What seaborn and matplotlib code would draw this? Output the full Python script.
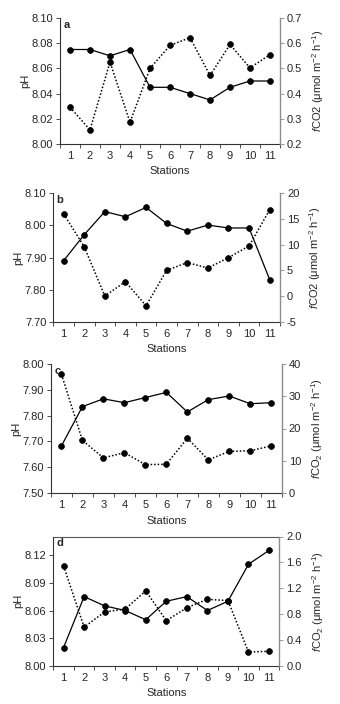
import numpy as np
import pandas as pd
import matplotlib
matplotlib.use("Agg")
import matplotlib.pyplot as plt
import seaborn as sns
from matplotlib.ticker import FixedLocator, FormatStrFormatter

sns.set_style("white")
plt.rcParams['font.family'] = ['Liberation Sans', 'DejaVu Sans']
plt.rcParams['mathtext.fontset'] = 'custom'
plt.rcParams['mathtext.rm'] = 'Liberation Sans'
plt.rcParams['mathtext.it'] = 'Liberation Sans:italic'
plt.rcParams['mathtext.bf'] = 'Liberation Sans:bold'

stations = list(range(1, 12))
ph_a = [8.075, 8.075, 8.070, 8.075, 8.045, 8.045, 8.040, 8.035, 8.045, 8.050, 8.050]
fco2_a = [0.346, 0.256, 0.525, 0.286, 0.500, 0.591, 0.622, 0.472, 0.595, 0.502, 0.555]
ph_b = [7.890, 7.971, 8.043, 8.027, 8.056, 8.006, 7.982, 8.001, 7.992, 7.992, 7.831]
fco2_b = [16.0, 9.6, 0.0, 2.8, -1.9, 5.0, 6.5, 5.45, 7.47, 9.74, 16.8]
ph_c = [7.683, 7.835, 7.865, 7.850, 7.870, 7.890, 7.814, 7.862, 7.876, 7.846, 7.850]
fco2_c = [36.8, 16.3, 10.9, 12.5, 8.8, 8.9, 17.0, 10.3, 12.9, 13.1, 14.6]
ph_d = [8.020, 8.075, 8.065, 8.060, 8.050, 8.070, 8.075, 8.060, 8.070, 8.110, 8.125]
fco2_d = [1.546, 0.600, 0.835, 0.880, 1.160, 0.700, 0.900, 1.030, 1.010, 0.216, 0.227]

panel_letters = ['a', 'b', 'c', 'd']
ph_ticks = [np.arange(8.00, 8.101, 0.02), np.arange(7.70, 8.101, 0.10),
            np.arange(7.50, 8.001, 0.10), np.arange(8.00, 8.121, 0.03)]
ph_lims = [(8.00, 8.10), (7.70, 8.10), (7.50, 8.00), (8.00, 8.14)]
f_ticks = [np.arange(0.2, 0.701, 0.1), np.arange(-5, 20.1, 5),
           np.arange(0, 40.1, 10), np.arange(0, 2.01, 0.4)]
f_lims = [(0.2, 0.7), (-5, 20), (0, 40), (0, 2.0)]
ph_fmt = ['%.2f', '%.2f', '%.2f', '%.2f']
f_fmt = ['%.1f', '%d', '%d', '%.1f']
f_labels = [r'$\it{f}$CO2 ($\mathrm{\mu}$mol m$^{-2}$ h$^{-1}$)',
            r'$\it{f}$CO2 ($\mathrm{\mu}$mol m$^{-2}$ h$^{-1}$)',
            r'$\it{f}$CO$_2$ ($\mathrm{\mu}$mol m$^{-2}$ h$^{-1}$)',
            r'$\it{f}$CO$_2$ ($\mathrm{\mu}$mol m$^{-2}$ h$^{-1}$)']
ph_data = [ph_a, ph_b, ph_c, ph_d]
f_data = [fco2_a, fco2_b, fco2_c, fco2_d]

W, H = 340, 704
# axes boxes in pixels: left, right, top, bottom
boxes = [(60, 280, 18, 144), (53.3, 280, 193.3, 321.7),
         (51, 281.7, 364, 493), (53.3, 279.3, 536.5, 666)]

fig = plt.figure(figsize=(W / 100, H / 100), dpi=100)
gray = '#8c8c8c'
fs = 8

for i in range(4):
    l, r, t, b = boxes[i]
    ax = fig.add_axes([l / W, 1 - b / H, (r - l) / W, (b - t) / H])
    ax2 = ax.twinx()
    df = pd.DataFrame({'Stations': stations, 'pH': ph_data[i], 'fCO2': f_data[i]})
    sns.lineplot(data=df, x='Stations', y='pH', ax=ax, color='black', lw=0.9,
                 marker='o', markersize=4.2, markeredgecolor='black', markeredgewidth=0.5)
    sns.lineplot(data=df, x='Stations', y='fCO2', ax=ax2, color='black', lw=1.1,
                 linestyle=(0, (1, 1.3)), marker='o', markersize=4.2,
                 markeredgecolor='black', markeredgewidth=0.5)
    ax.set_xlim(0.5, 11.5)
    ax.set_ylim(*ph_lims[i])
    ax2.set_ylim(*f_lims[i])

    ax.set_xticks(stations)
    ax.set_xticklabels([str(s) for s in stations], fontsize=fs)
    ax.xaxis.set_minor_locator(FixedLocator(np.arange(0.5, 11.6, 1)))
    ax.tick_params(axis='x', which='major', length=0, pad=5)
    ax.tick_params(axis='x', which='minor', length=3, width=0.6, color='#333333', direction='out', bottom=True)

    ax.set_yticks(ph_ticks[i])
    ax.yaxis.set_major_formatter(FormatStrFormatter(ph_fmt[i]))
    ax.tick_params(axis='y', length=3, width=0.6, color='#333333', direction='out', labelsize=fs, pad=2, left=True)

    ax2.set_yticks(f_ticks[i])
    ax2.yaxis.set_major_formatter(FormatStrFormatter(f_fmt[i]))
    ax2.tick_params(axis='y', length=3, width=0.6, color=gray, direction='out', labelsize=fs, pad=2, right=True)

    ax.set_xlabel('Stations', fontsize=fs, labelpad=4)
    ax.set_ylabel('pH', fontsize=fs, labelpad=1)
    ax2.set_ylabel(f_labels[i], fontsize=fs, labelpad=6)

    for sp in ['left', 'bottom']:
        ax.spines[sp].set_color('#333333')
        ax.spines[sp].set_linewidth(0.8)
    ax.spines['right'].set_visible(False)
    ax2.spines['right'].set_color(gray)
    ax2.spines['right'].set_linewidth(1.0)
    for sp in ['left', 'bottom', 'top']:
        ax2.spines[sp].set_visible(False)
    if i == 3:
        ax.spines['top'].set_visible(True)
        ax.spines['top'].set_color('#555555')
        ax.spines['top'].set_linewidth(0.8)
    else:
        ax.spines['top'].set_visible(False)
    ax2.text(0.015, 0.985, panel_letters[i], transform=ax.transAxes, fontsize=fs,
             fontweight='bold', ha='left', va='top')

fig.savefig('out.png', dpi=100)
